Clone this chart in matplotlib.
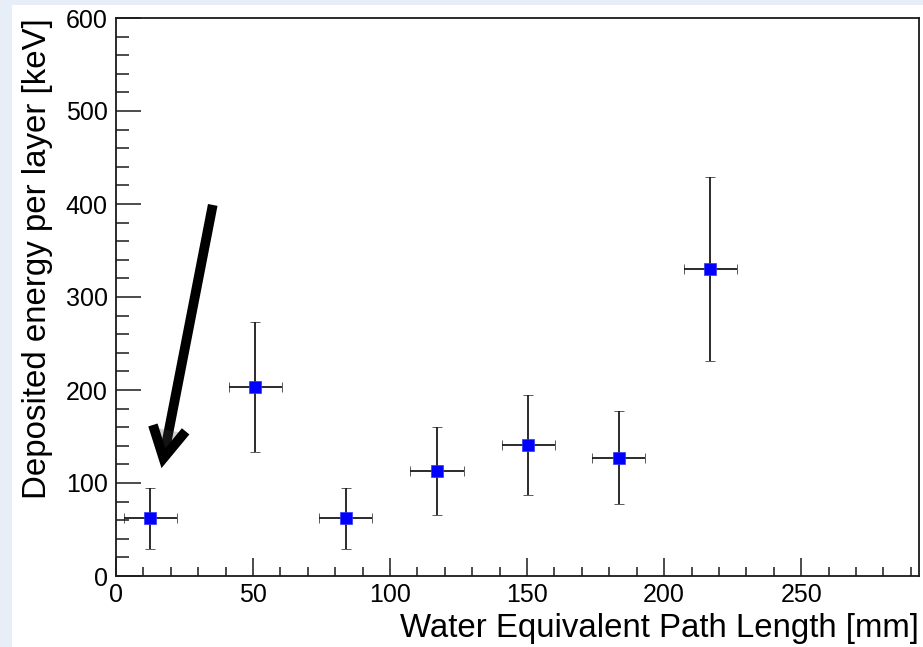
import matplotlib
matplotlib.use('Agg')
import matplotlib.pyplot as plt
import matplotlib.patches as patches
import matplotlib.patheffects as pe
from matplotlib.ticker import MultipleLocator

plt.rcParams['font.family'] = ['Liberation Sans', 'DejaVu Sans']

# energy deposit per layer vs. water equivalent path length
wepl = [12.5, 50.9, 83.8, 117.1, 150.4, 183.4, 216.9]
wepl_err = [9.7, 9.7, 9.7, 9.7, 9.7, 9.7, 9.7]
edep = [62, 203, 62, 113, 141, 127, 330]
edep_err = [33, 70, 33, 47, 54, 50, 99]

W, H = 923, 647
fig = plt.figure(figsize=(W / 100, H / 100), dpi=100, facecolor='#e8eef8')
# white canvas inside the light frame
fig.patches.append(patches.Rectangle((12 / W, 0), 1 - 12 / W, (H - 5) / H,
                                     transform=fig.transFigure, facecolor='white',
                                     edgecolor='none', zorder=-10))

ax = fig.add_axes([116 / W, (H - 576) / H, (919 - 116) / W, (576 - 18) / H])
ax.set_facecolor('white')

ax.errorbar(wepl, edep, xerr=wepl_err, yerr=edep_err, fmt='s', color='blue',
            markersize=8.5, markeredgecolor='#3333ff', markeredgewidth=0.5,
            ecolor='#1a1a1a', elinewidth=1.3, capsize=3.5, capthick=1.5, zorder=3)

ax.set_xlim(0, 293)
ax.set_ylim(0, 600)

ax.xaxis.set_major_locator(MultipleLocator(50))
ax.xaxis.set_minor_locator(MultipleLocator(10))
ax.yaxis.set_major_locator(MultipleLocator(100))
ax.yaxis.set_minor_locator(MultipleLocator(20))

ax.tick_params(axis='both', which='both', direction='in', top=False, right=False,
               width=1.1, color='#1a1a1a', labelsize=18)
ax.tick_params(axis='y', which='major', length=18, pad=6)
ax.tick_params(axis='y', which='minor', length=9.5)
ax.tick_params(axis='x', which='major', length=13, pad=5)
ax.tick_params(axis='x', which='minor', length=6.5)

for sp in ax.spines.values():
    sp.set_linewidth(1.3)
    sp.set_color('#1a1a1a')

ax.set_xlabel('Water Equivalent Path Length [mm]', loc='right', fontsize=23.8, labelpad=4)
ax.set_ylabel('Deposited energy per layer [keV]', loc='top', fontsize=23.8, labelpad=9)

# arrow pointing at the first layer
arr = ax.annotate('', xy=(16.6, 116), xytext=(35.3, 399),
                  arrowprops=dict(arrowstyle='->,head_length=1.1,head_width=0.6',
                                  mutation_scale=20, lw=7, color='black',
                                  capstyle='butt', joinstyle='miter',
                                  shrinkA=0, shrinkB=0),
                  annotation_clip=False)
arr.arrow_patch.set_path_effects([pe.SimplePatchShadow(offset=(2, -2), alpha=0.25),
                                  pe.Normal()])

fig.savefig('out.png', dpi=100, facecolor=fig.get_facecolor())
